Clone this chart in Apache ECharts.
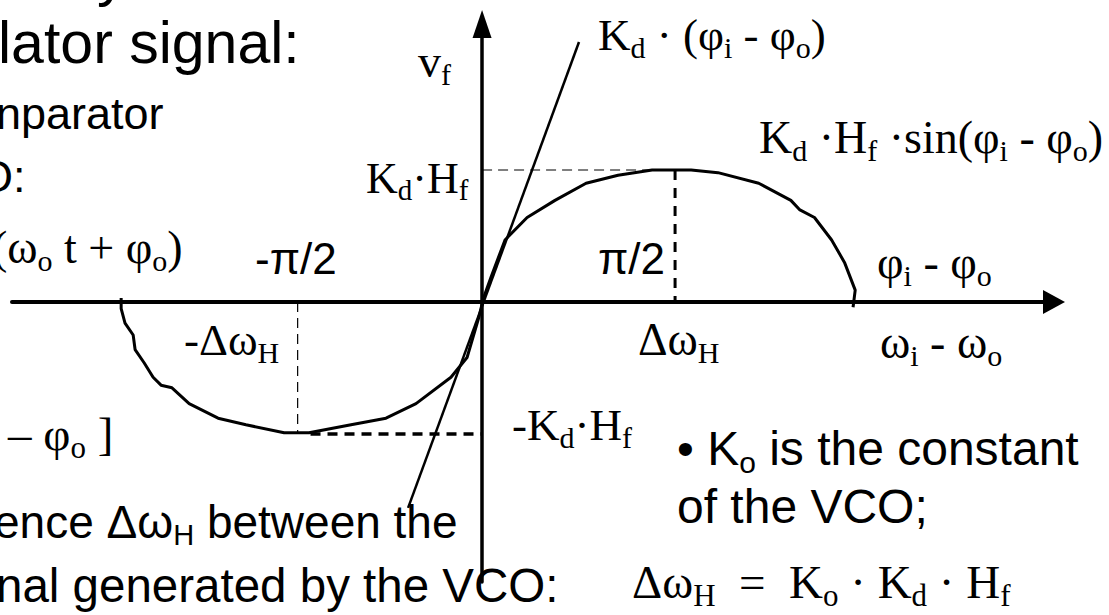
<!DOCTYPE html>
<html>
<head>
<meta charset="utf-8">
<title>Phase comparator characteristic</title>
<script src="https://cdn.jsdelivr.net/npm/echarts@6/dist/echarts.min.js"></script>
<style>
  html, body { margin: 0; padding: 0; background: #fff; }
  #chart { width: 1109px; height: 615px; }
</style>
</head>
<body>
<div id="chart"></div>
<script>
// x: phase difference in degrees, y: output in units of Kd*Hf
const upperCurve = [
  [0, 0], [4.2, 0.19], [10.7, 0.47], [21, 0.64], [34, 0.77], [48.5, 0.9], [63.4, 0.96],
  [79.3, 1.0], [97.5, 1.0], [110, 0.98], [129, 0.9], [144, 0.77], [148, 0.7], [155, 0.64],
  [163, 0.47], [169, 0.3], [174, 0.09], [173, -0.04]
];
const lowerCurve = [
  [-168.3, 0.03], [-168.3, -0.05], [-166.5, -0.16], [-162.7, -0.25], [-161.8, -0.36],
  [-157.6, -0.46], [-153.4, -0.57], [-149.7, -0.63], [-144.6, -0.65], [-136.6, -0.77],
  [-123.1, -0.88], [-110.1, -0.93], [-92.3, -0.99], [-80.7, -0.99], [-61.1, -0.93],
  [-44.8, -0.88], [-30.8, -0.77], [-14.5, -0.57], [-7, -0.42], [-1.4, -0.11], [0.5, 0.02]
];
// linear approximation Kd*(phi_i - phi_o)
const tangentLine = [[-34.5, -1.56], [45.2, 1.97]];
// guide lines
const peakGuideH = [[0, 1], [80, 1]];
const peakGuideV = [[90, 1], [90, 0]];
const troughGuideV = [[-86, 0], [-86, -1]];
const troughGuideH = [[-80, -1], [0, -1]];

const SANS = '"Liberation Sans", Arial, sans-serif';
const SERIF = '"Liberation Serif", "Times New Roman", serif';
const NB = '\u00a0';

// slide text and formula labels, _{..} = subscript
const labels = [
  { text: 'y', x: 97, y: -5, size: 59, font: SANS },
  { text: 'lator signal:', x: -2, y: 63, size: 59, font: SANS },
  { text: 'nparator', x: -4, y: 129, size: 45, font: SANS },
  { text: 'O:', x: -22, y: 192, size: 45, font: SANS },
  { text: '(ω_{o} t + φ_{o})', x: -8, y: 263, size: 46, font: SERIF },
  { text: '-π/2', x: 255, y: 273, size: 44, font: SANS },
  { text: 'π/2', x: 598, y: 273, size: 44, font: SANS },
  { text: 'v_{f}', x: 418, y: 77, size: 46, font: SERIF },
  { text: 'K_{d} · (φ_{i} - φ_{o})', x: 598, y: 50, size: 45, font: SERIF },
  { text: 'K_{d} ·H_{f} ·sin(φ_{i} - φ_{o})', x: 759, y: 153, size: 46, font: SERIF },
  { text: 'K_{d}·H_{f}', x: 366, y: 193, size: 44, font: SERIF },
  { text: 'φ_{i} - φ_{o}', x: 877, y: 278, size: 46, font: SERIF },
  { text: '-Δω_{H}', x: 184, y: 355, size: 45, font: SERIF },
  { text: 'Δω_{H}', x: 638, y: 355, size: 46, font: SERIF },
  { text: 'ω_{i} - ω_{o}', x: 880, y: 358, size: 46, font: SERIF },
  { text: '– φ_{o} ]', x: 8, y: 450, size: 47, font: SERIF },
  { text: '-K_{d}·H_{f}', x: 512, y: 440, size: 45, font: SERIF },
  { text: '• K_{o} is the constant', x: 677, y: 465, size: 48, font: SANS },
  { text: 'of the VCO;', x: 677, y: 523, size: 48, font: SANS },
  { text: 'ence Δω_{H} between the', x: -6, y: 538, size: 46, font: SANS },
  { text: 'nal generated by the VCO:', x: -4, y: 602, size: 47.5, font: SANS },
  { text: 'Δω_{H} ' + NB + '=' + NB + ' K_{o} · K_{d} · H_{f}', x: 632, y: 598, size: 47, font: SERIF }
];

function toRich(markup) {
  return markup.split(/_\{([^}]*)\}/)
    .map((p, i) => (p ? (i % 2 ? '{s|' + p + '}' : '{m|' + p + '}') : ''))
    .join('');
}

function makeText(l) {
  const sub = Math.round(l.size * (l.font === SERIF ? 0.66 : 0.62));
  // push the subscript down by padding its box (middle aligned tokens)
  const pad = Math.round(2 * (0.34 * (l.size - sub) + l.size * 0.16));
  return {
    type: 'text',
    x: l.x,
    y: l.y - l.size * 0.34,
    silent: true,
    style: {
      text: toRich(l.text),
      align: 'left',
      verticalAlign: 'middle',
      rich: {
        m: { fontFamily: l.font, fontSize: l.size, fill: '#000', verticalAlign: 'middle' },
        s: { fontFamily: l.font, fontSize: sub, fill: '#000', verticalAlign: 'middle', padding: [pad, 0, 0, 0] }
      }
    }
  };
}

function lineSeries(data, width, dash) {
  return {
    type: 'line',
    data: data,
    symbol: 'none',
    showSymbol: false,
    silent: true,
    lineStyle: { color: '#000', width: width, type: dash || 'solid' }
  };
}

const chart = echarts.init(document.getElementById('chart'), null, { renderer: 'svg' });

chart.setOption({
  animation: false,
  backgroundColor: '#fff',
  grid: { left: 12, right: 55, top: 24, bottom: 33, containLabel: false, outerBoundsMode: 'none' },
  xAxis: {
    type: 'value',
    min: -219.2,
    max: 266.7,
    axisLine: {
      onZero: true,
      symbol: ['none', 'triangle'],
      symbolSize: [24, 22],
      lineStyle: { color: '#000', width: 4 }
    },
    axisTick: { show: false },
    axisLabel: { show: false },
    splitLine: { show: false }
  },
  yAxis: {
    type: 'value',
    min: -2.121,
    max: 2.106,
    axisLine: {
      onZero: true,
      symbol: ['none', 'triangle'],
      symbolSize: [19, 28],
      lineStyle: { color: '#000', width: 3.5 }
    },
    axisTick: { show: false },
    axisLabel: { show: false },
    splitLine: { show: false }
  },
  series: [
    lineSeries(upperCurve, 3),
    lineSeries(lowerCurve, 3),
    lineSeries(tangentLine, 2.5),
    lineSeries(peakGuideH, 1.2, [10, 6]),
    lineSeries(peakGuideV, 3, [10, 8]),
    lineSeries(troughGuideV, 1.2, [10, 6]),
    lineSeries(troughGuideH, 3.5, [10, 7])
  ],
  graphic: labels.map(makeText)
});

window.addEventListener('resize', () => {
  chart.resize();
});
</script>
</body>
</html>
